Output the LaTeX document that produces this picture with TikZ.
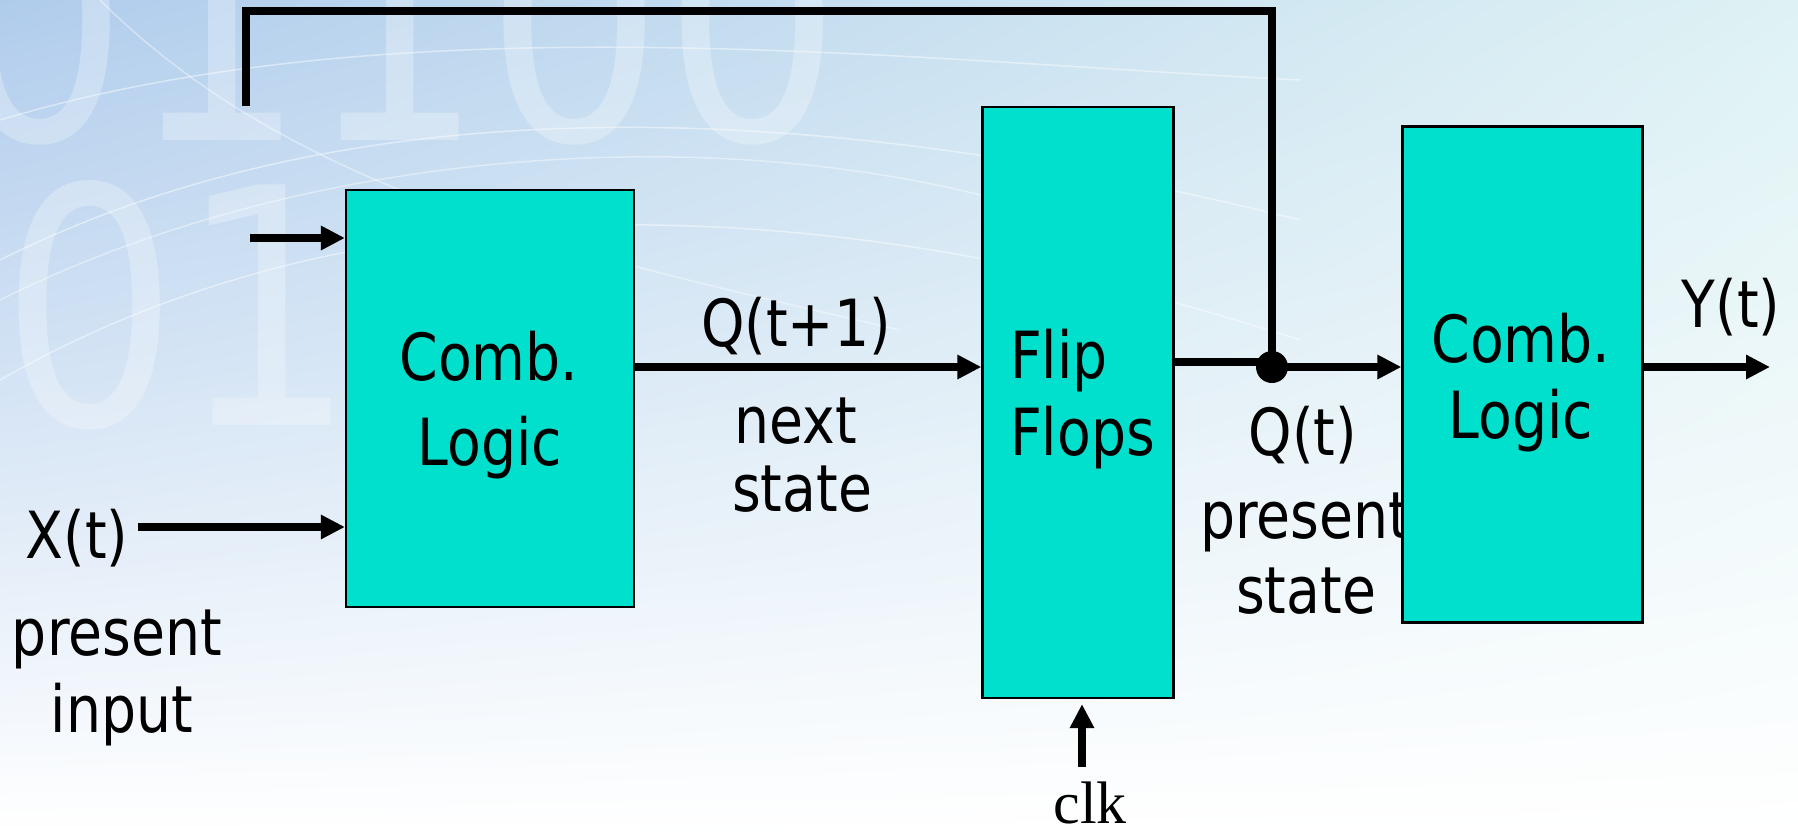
\documentclass[tikz,border=0pt]{standalone}
\usepackage{fontspec}
\setmainfont[FakeStretch=0.85]{DejaVu Sans}
\newfontfamily\clkfont{Liberation Serif}
\usetikzlibrary{arrows.meta,calc,shadings}
\definecolor{boxfill}{RGB}{0,224,205}
\definecolor{bgA}{RGB}{176,204,236}
\definecolor{bgB}{RGB}{222,242,244}
\tikzset{
  blk/.style={draw=black, line width=2.2pt, fill=boxfill, inner sep=0pt},
  wire/.style={line width=8pt, line join=miter},
  arr/.style={wire, -{Triangle[length=24pt,width=23pt]}},
  lbl/.style={inner sep=0pt, anchor=base, font=\fontsize{65}{78}\selectfont},
  lblw/.style={lbl, anchor=base west},
  bgdigit/.style={inner sep=0pt, text=white, opacity=0.28, font=\fontsize{330}{330}\selectfont}
}
\begin{document}
\begin{tikzpicture}[x=1pt,y=-1pt]
\useasboundingbox (0,0) rectangle (1798,835);
% background
\shade[upper left=bgA, upper right=bgB, lower left=white, lower right=white] (0,0) rectangle (1798,835);
\node[bgdigit, anchor=base west] (dg1) at (-50,140) {01100};
\node[bgdigit, anchor=base west] (dg2) at (0,425) {01};
\foreach \a/\b in {0/120, 60/260, 150/380}{
  \draw[white, opacity=0.45, line width=1.5pt] (0,\b) .. controls (400,\a) and (900,\a+60) .. (1300,\b-40);
}
\draw[white, opacity=0.4, line width=1.5pt] (0,300) .. controls (300,150) and (700,120) .. (1000,200);
\draw[white, opacity=0.4, line width=1.5pt] (100,0) .. controls (300,200) and (600,260) .. (900,330);

% coordinates
\coordinate (in1) at (250,238);
\coordinate (xin) at (138,527);
\coordinate (qy) at (0,367);
\coordinate (ffo) at (0,362);
\coordinate (top) at (0,11);
\coordinate (fbl) at (246,106);
\coordinate (yend) at (1770,367);
\coordinate (clkt) at (1082,767);

% labels that sit under the right box
\node[lbl] (qt) at (1303,455) {Q(t)};
\node[lbl] (ps1) at (1305,538) {present};
\node[lbl] (ps2) at (1306,613) {state};

% boxes
\node[blk, minimum width=288pt, minimum height=417pt] (cl1) at (490,398.5) {};
\node[blk, minimum width=191pt, minimum height=591pt] (ff) at (1078,402.5) {};
\node[blk, minimum width=240pt, minimum height=496pt] (cl2) at (1522.5,374.5) {};
\node[circle, fill=black, minimum size=32pt, inner sep=0pt] (dot) at (1272,367) {};

% box texts
\node[lbl] (c1a) at (489,380) {Comb.};
\node[lbl] (c1b) at (490,465) {Logic};
\node[lblw] (ffa) at (1010,378) {Flip};
\node[lblw] (ffb) at (1010,455) {Flops};
\node[lbl] (c2a) at (1521,362) {Comb.};
\node[lbl] (c2b) at (1521,438) {Logic};

% other labels
\node[lbl] (qn) at (796,346) {Q(t+1)};
\node[lbl] (ns1) at (796,443) {next};
\node[lbl] (ns2) at (802,511) {state};
\node[lbl] (xt) at (77,558) {X(t)};
\node[lbl] (pi1) at (117,655) {present};
\node[lbl] (pi2) at (122,732) {input};
\node[lbl] (yt) at (1731,327) {Y(t)};
\node[inner sep=0pt, anchor=base, font=\clkfont\fontsize{60}{64}\selectfont] (clk) at (1090,823) {clk};

% connectors
\draw[arr] (in1) -- (in1 -| cl1.west);
\draw[arr] (xin) -- (xin -| cl1.west);
\draw[arr] (cl1.east |- qy) -- (ff.west |- qy);
\draw[wire] (ff.east |- ffo) -- (dot.center |- ffo);
\draw[wire] (dot.center) -- (dot.center |- top) -- (fbl |- top) -- (fbl);
\draw[arr] (dot.center) -- (dot -| cl2.west);
\draw[arr] (cl2.east |- dot) -- (yend);
\draw[arr] (clkt) -- ([yshift=-5pt]clkt |- ff.south);
\end{tikzpicture}
\end{document}
